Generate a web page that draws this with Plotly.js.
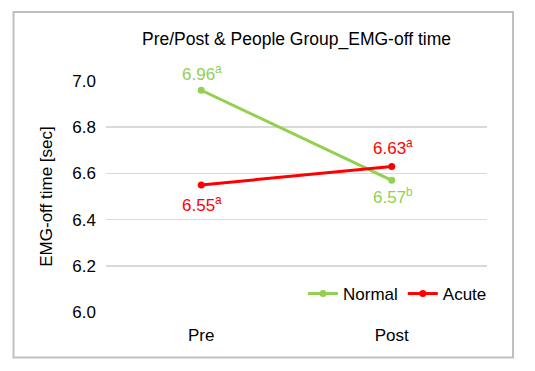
<!DOCTYPE html>
<html>
<head>
<meta charset="utf-8">
<script src="https://cdn.plot.ly/plotly-3.0.1.min.js"></script>
<style>
html,body{margin:0;padding:0;background:#fff;}
#chart{width:535px;height:371px;}
</style>
</head>
<body>
<div id="chart"></div>
<script>
const categories = ["Pre", "Post"];
const normalValues = [6.96, 6.57];
const acuteValues = [6.55, 6.63];
const normalLabels = ["6.96<sup>a</sup>", "6.57<sup>b</sup>"];
const acuteLabels = ["6.55<sup>a</sup>", "6.63<sup>a</sup>"];
const yTicks = [6.0, 6.2, 6.4, 6.6, 6.8, 7.0];

const GREEN = "#92d050";
const RED = "#ff0000";
const FONT = "Liberation Sans, Arial, sans-serif";

const traces = [
  {x: categories, y: normalValues, name: "Normal", type: "scatter", mode: "lines+markers",
   line: {color: GREEN, width: 3}, marker: {color: GREEN, size: 7}, cliponaxis: false},
  {x: categories, y: acuteValues, name: "Acute", type: "scatter", mode: "lines+markers",
   line: {color: RED, width: 3}, marker: {color: RED, size: 7}, cliponaxis: false}
];

// label placement: above or below the marker
const normalShift = [17, -16];
const acuteShift = [-19, 19];
const annotations = [];
categories.forEach((c, i) => {
  annotations.push({x: c, y: normalValues[i], xref: "x", yref: "y", text: normalLabels[i],
    showarrow: false, yshift: normalShift[i], xshift: 1, font: {family: FONT, size: 17, color: GREEN}});
  annotations.push({x: c, y: acuteValues[i], xref: "x", yref: "y", text: acuteLabels[i],
    showarrow: false, yshift: acuteShift[i], xshift: 1, font: {family: FONT, size: 17, color: RED}});
});

const layout = {
  width: 535, height: 371,
  margin: {l: 106, r: 48, t: 81, b: 59},
  paper_bgcolor: "#ffffff", plot_bgcolor: "#ffffff",
  font: {family: FONT, size: 17, color: "#000000"},
  title: {text: "Pre/Post & People Group_EMG-off time", font: {family: FONT, size: 17.5, color: "#000"},
          x: 0.5, xref: "paper", y: 1 - 39/371, yref: "container", yanchor: "middle"},
  xaxis: {type: "category", range: [-0.5, 1.5], showgrid: false, zeroline: false, showline: false,
          ticks: "", ticklabelstandoff: 11, tickfont: {family: FONT, size: 17, color: "#000"}},
  yaxis: {range: [6.0, 7.0], tickvals: yTicks, ticktext: yTicks.map(v => v.toFixed(1)),
          showgrid: true, gridcolor: "#d9d9d9", gridwidth: 1.5, zeroline: false, showline: false,
          ticks: "", ticklabelstandoff: 9, tickfont: {family: FONT, size: 17, color: "#000"},
          title: {text: "EMG-off time [sec]", standoff: 15, font: {family: FONT, size: 17, color: "#000"}}},
  legend: {orientation: "h", x: 1 + 5/381, xanchor: "right", y: 0.078, yanchor: "middle",
           bgcolor: "rgba(0,0,0,0)", font: {family: FONT, size: 17, color: "#000"}, itemwidth: 30,
           tracegroupgap: 0},
  showlegend: true,
  annotations: annotations,
  shapes: [{type: "rect", xref: "paper", yref: "paper",
            x0: (13.5-106)/381, x1: (513-106)/381, y0: (312-357.5)/231, y1: (312-12)/231,
            line: {color: "#c0c0c0", width: 2}, fillcolor: "rgba(0,0,0,0)", layer: "below"}]
};

Plotly.newPlot("chart", traces, layout, {displayModeBar: false, staticPlot: true});
</script>
</body>
</html>
